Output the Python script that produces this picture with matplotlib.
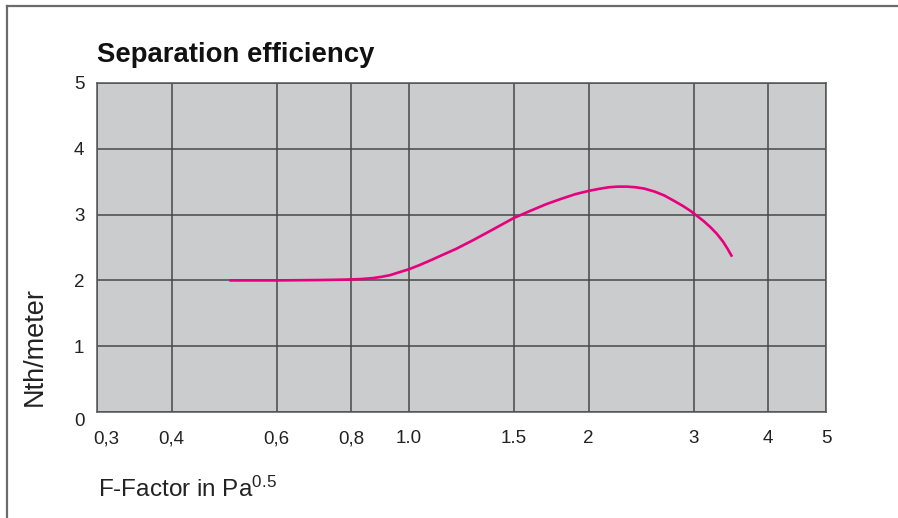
import matplotlib.pyplot as plt
from matplotlib.lines import Line2D
from matplotlib.transforms import ScaledTranslation

plt.rcParams['font.family'] = ['Liberation Sans', 'DejaVu Sans']
plt.rcParams['mathtext.default'] = 'regular'

# F-factor (Pa^0.5) vs theoretical stages per meter
f_factor = [0.50, 0.60, 0.70, 0.78, 0.83, 0.87, 0.90, 0.93, 0.96, 1.00, 1.04,
            1.09, 1.14, 1.20, 1.28, 1.38, 1.50, 1.60, 1.70, 1.80, 1.90, 2.00,
            2.08, 2.16, 2.24, 2.32, 2.40, 2.48, 2.58, 2.68, 2.78, 2.88, 2.96,
            3.04, 3.12, 3.20, 3.28, 3.36, 3.42, 3.48]
nth_per_m = [2.00, 2.00, 2.005, 2.012, 2.02, 2.035, 2.055, 2.08, 2.12, 2.17, 2.23,
             2.31, 2.39, 2.48, 2.61, 2.77, 2.95, 3.06, 3.16, 3.24, 3.31, 3.36,
             3.39, 3.415, 3.425, 3.425, 3.415, 3.395, 3.35, 3.29, 3.21, 3.13, 3.06,
             2.98, 2.90, 2.81, 2.71, 2.59, 2.48, 2.36]

x_ticks = [0.3, 0.4, 0.6, 0.8, 1.0, 1.5, 2, 3, 4, 5]
x_labels = ['0,3', '0,4', '0,6', '0,8', '1.0', '1.5', '2', '3', '4', '5']
y_ticks = [0, 1, 2, 3, 4, 5]

fig = plt.figure(figsize=(8.98, 5.18), dpi=100)
ax = fig.add_axes([0.108, 0.2046, 0.8118, 0.6352])
ax.set_facecolor('#cbcccd')

ax.plot(f_factor, nth_per_m, color='#e6007e', lw=1.9, solid_capstyle='butt', zorder=3)

ax.set_xscale('log')
ax.set_xlim(0.3, 5)
ax.set_ylim(0, 5)
ax.set_xticks(x_ticks)
ax.set_xticklabels(x_labels)
ax.minorticks_off()
ax.set_yticks(y_ticks)
ax.grid(True, color='#474747', lw=1.1)
ax.set_axisbelow(True)
ax.tick_params(axis='x', length=0, pad=13, labelsize=13.5, labelcolor='#222222')
ax.tick_params(axis='y', length=0, pad=9, labelsize=13.5, labelcolor='#222222')
for s in ax.spines.values():
    s.set_color('#555555')
    s.set_linewidth(1.1)

# nudge first x label and the zero label like the printed sheet
xl = ax.get_xticklabels()
xl[0].set_horizontalalignment('left')
xl[0].set_transform(xl[0].get_transform() + ScaledTranslation(-4 / 100, 0, fig.dpi_scale_trans))
yl = ax.get_yticklabels()
yl[0].set_transform(yl[0].get_transform() + ScaledTranslation(0, -7 / 100, fig.dpi_scale_trans))

fig.text(97 / 898, 1 - 62 / 518, 'Separation efficiency', fontsize=19.8, fontweight='bold',
         color='#111111', ha='left', va='baseline')
fig.text(35 / 898, 1 - 346 / 518, 'Nth/meter', fontsize=19.5, rotation=90,
         color='#222222', ha='center', va='center')
fig.text(98 / 898, 1 - 497 / 518, 'F-Factor in Pa$^{0.5}$', fontsize=17.5,
         color='#222222', ha='left', va='baseline')

# frame lines along top and left edge
fig.add_artist(Line2D([7 / 898, 1], [1 - 6 / 518, 1 - 6 / 518], color='#6b6b6b', lw=1.6))
fig.add_artist(Line2D([7 / 898, 7 / 898], [0, 1 - 6 / 518], color='#6b6b6b', lw=1.6))

fig.savefig('out.png', dpi=100)
